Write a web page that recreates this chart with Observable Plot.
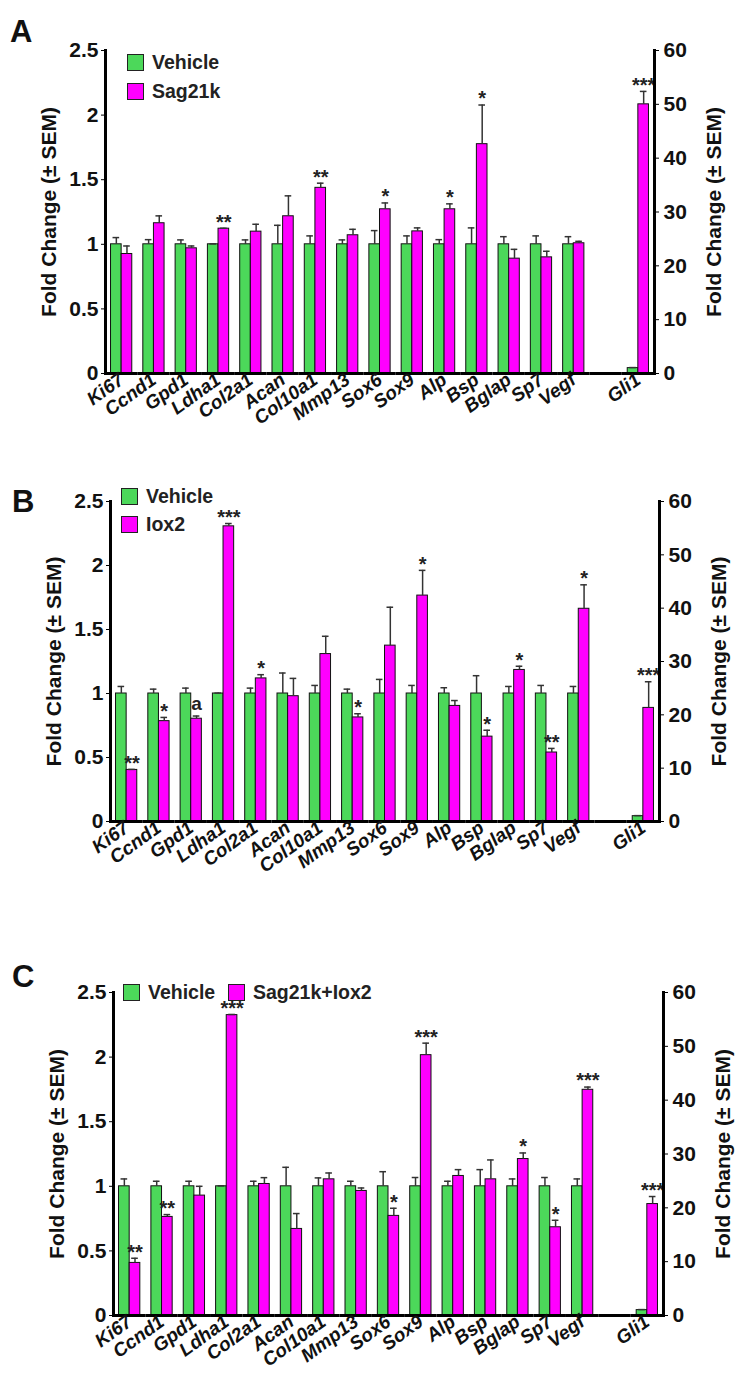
<!DOCTYPE html>
<html>
<head>
<meta charset="utf-8">
<script src="https://cdn.jsdelivr.net/npm/d3@7"></script>
<script src="https://cdn.jsdelivr.net/npm/@observablehq/plot@0.6"></script>
<style>
  body { margin: 0; background: #fff; font-family: "Liberation Sans", Arial, sans-serif; }
  #page { position: relative; width: 753px; height: 1395px; overflow: hidden; }
  .panel { position: absolute; left: 0; width: 753px; }
  .panel svg { position: absolute; left: 0; top: 0; overflow: visible; }
  .letter { position: absolute; font-weight: bold; font-size: 31px; line-height: 1; color: #111; }
  .legend { position: absolute; font-weight: bold; font-size: 19.5px; color: #222; line-height: 1; }
  .item { position: absolute; display: flex; align-items: center; white-space: nowrap; }
  .swatch { width: 15px; height: 15px; border: 1.5px solid #222; margin-right: 8px; flex: none; }
</style>
</head>
<body>
<div id="page"></div>
<script>
// Genes on the left (fold change) axis, in plotting order
const genes = ["Ki67", "Ccnd1", "Gpd1", "Ldha1", "Col2a1", "Acan", "Col10a1", "Mmp13",
               "Sox6", "Sox9", "Alp", "Bsp", "Bglap", "Sp7", "Vegf"];
// Gli1 is read against the right axis
const rightGene = "Gli1";
const leftTicks = [0, 0.5, 1, 1.5, 2, 2.5];
const rightTicks = [0, 10, 20, 30, 40, 50, 60];

const colorVehicle = "#4cd85a";
const colorTreated = "#ff00ff";

// Panel A: Vehicle vs Sag21k
const vehA    = [1, 1, 1, 1, 1, 1, 1, 1, 1, 1, 1, 1, 1, 1, 1];
const vehSemA = [0.052, 0.036, 0.034, 0.003, 0.034, 0.147, 0.065, 0.034, 0.106, 0.065, 0.036, 0.127, 0.059, 0.065, 0.059];
const sagA    = [0.925, 1.163, 0.969, 1.121, 1.098, 1.217, 1.437, 1.07, 1.271, 1.1, 1.271, 1.775, 0.889, 0.899, 1.008];
const sagSemA = [0.062, 0.057, 0.018, 0.003, 0.057, 0.158, 0.036, 0.046, 0.049, 0.027, 0.042, 0.303, 0.072, 0.047, 0.015];
const starsA  = ["", "", "", "**", "", "", "**", "", "*", "", "*", "*", "", "", ""];
const gli1A   = {veh: 1, vehSem: 0.1, trt: 50, trtSem: 2.4, mark: "***"};

// Panel B: Vehicle vs Iox2
const vehB    = [1, 1, 1, 1, 1, 1, 1, 1, 1, 1, 1, 1, 1, 1, 1];
const vehSemB = [0.055, 0.034, 0.042, 0.003, 0.042, 0.16, 0.063, 0.034, 0.11, 0.063, 0.045, 0.139, 0.055, 0.063, 0.055];
const ioxB    = [0.403, 0.784, 0.803, 2.306, 1.118, 0.979, 1.308, 0.813, 1.374, 1.765, 0.903, 0.663, 1.184, 0.539, 1.662];
const ioxSemB = [0.004, 0.029, 0.021, 0.022, 0.029, 0.139, 0.139, 0.029, 0.3, 0.197, 0.042, 0.05, 0.029, 0.032, 0.187];
const starsB  = ["**", "*", "a", "***", "*", "", "", "*", "", "*", "", "*", "*", "**", "*"];
const gli1B   = {veh: 1, vehSem: 0.1, trt: 21.3, trtSem: 4.9, mark: "***"};

// Panel C: Vehicle vs Sag21k+Iox2
const vehC    = [1, 1, 1, 1, 1, 1, 1, 1, 1, 1, 1, 1, 1, 1, 1];
const vehSemC = [0.057, 0.039, 0.039, 0.003, 0.039, 0.147, 0.065, 0.039, 0.113, 0.068, 0.039, 0.129, 0.057, 0.068, 0.057];
const comboC    = [0.407, 0.763, 0.928, 2.325, 1.018, 0.67, 1.054, 0.964, 0.771, 2.015, 1.08, 1.054, 1.211, 0.683, 1.747];
const comboSemC = [0.036, 0.018, 0.072, 0.005, 0.049, 0.119, 0.049, 0.023, 0.059, 0.093, 0.049, 0.15, 0.047, 0.054, 0.021];
const starsC  = ["**", "**", "", "***", "", "", "", "", "*", "***", "", "", "*", "*", "***"];
const gli1C   = {veh: 1, vehSem: 0.1, trt: 20.7, trtSem: 1.4, mark: "***"};

const axisTitle = "Fold Change (± SEM)";
// right axis spans 0–60 over the same height as 0–2.5 on the left
const ratio = rightTicks[rightTicks.length - 1] / leftTicks[leftTicks.length - 1];
// one empty slot separates Gli1 from the other genes
const slots = [...genes, "", rightGene];

function buildRows(treatment, veh, vehSem, trt, trtSem, stars, gli1) {
  const rows = [];
  genes.forEach((g, i) => {
    rows.push({gene: g, series: "Vehicle", value: veh[i], sem: vehSem[i], mark: ""});
    rows.push({gene: g, series: treatment, value: trt[i], sem: trtSem[i], mark: stars[i]});
  });
  rows.push({gene: rightGene, series: "Vehicle", value: gli1.veh / ratio, sem: gli1.vehSem / ratio, mark: ""});
  rows.push({gene: rightGene, series: treatment, value: gli1.trt / ratio, sem: gli1.trtSem / ratio, mark: gli1.mark});
  return rows;
}

function drawPanel(cfg) {
  const rows = buildRows(cfg.treatment, cfg.veh, cfg.vehSem, cfg.trt, cfg.trtSem, cfg.stars, cfg.gli1);
  const top = d => d.value + d.sem;
  const withErr = rows.filter(d => d.sem > 0);
  const starRows = rows.filter(d => /\*/.test(d.mark));
  const letterRows = rows.filter(d => d.mark && !/\*/.test(d.mark));
  const textStyle = {fontFamily: "Liberation Sans, Arial, sans-serif"};

  return Plot.plot({
    width: 753,
    height: cfg.height,
    marginTop: cfg.marginTop,
    marginBottom: cfg.marginBottom,
    marginLeft: cfg.marginLeft,
    marginRight: cfg.marginRight,
    style: {fontFamily: "Liberation Sans, Arial, sans-serif", background: "transparent", overflow: "visible"},
    fx: {domain: slots, paddingInner: 0, paddingOuter: 0, round: false},
    x: {domain: ["Vehicle", cfg.treatment], paddingInner: 0, paddingOuter: 0.52, round: false, axis: null},
    y: {domain: [0, 2.5]},
    color: {domain: ["Vehicle", cfg.treatment], range: [colorVehicle, colorTreated]},
    marks: [
      Plot.barY(rows, {fx: "gene", x: "series", y: "value", fill: "series", stroke: "#111", strokeWidth: 1}),
      Plot.ruleX(withErr, {fx: "gene", x: "series", y1: top, y2: "value", stroke: "#333", strokeWidth: 1.5}),
      Plot.tickY(withErr, {fx: "gene", x: "series", y: top, stroke: "#333", strokeWidth: 1.5, insetLeft: 2, insetRight: 2}),
      Plot.text(starRows, {fx: "gene", x: "series", y: top, text: "mark", dy: -6, fontSize: 20, fontWeight: "bold", fill: "#222", ...textStyle}),
      Plot.text(letterRows, {fx: "gene", x: "series", y: top, text: "mark", dy: -12, fontSize: 19, fontWeight: "bold", fill: "#222", ...textStyle}),
      // baseline runs through every slot, including the spacer before Gli1
      Plot.ruleY(slots, {fx: d => d, y: () => 0, stroke: "#000", strokeWidth: 3}),
      Plot.frame({anchor: "left", facetAnchor: "left", stroke: "#000", strokeWidth: 3}),
      Plot.frame({anchor: "right", facetAnchor: "right", stroke: "#000", strokeWidth: 3}),
      Plot.axisY(leftTicks, {
        anchor: "left", facetAnchor: "left", tickSize: 4, tickPadding: 3, tickFormat: d => String(d),
        fontSize: 21, fontWeight: "bold", fill: "#111",
        label: axisTitle, labelAnchor: "center", labelArrow: "none", labelOffset: 64
      }),
      Plot.axisY(rightTicks.map(v => v / ratio), {
        anchor: "right", facetAnchor: "right", tickSize: 4, tickPadding: 5, tickFormat: d => String(Math.round(d * ratio)),
        fontSize: 21, fontWeight: "bold", fill: "#111",
        label: axisTitle, labelAnchor: "center", labelArrow: "none", labelOffset: 66
      }),
      Plot.axisFx({
        anchor: "bottom", tickSize: 0, tickPadding: 4, tickRotate: -36, label: null,
        tickFormat: d => d, fontSize: 19, fontWeight: "bold", fontStyle: "italic", fill: "#111"
      })
    ]
  });
}

const panels = [
  {letter: "A", top: 0, height: 440, marginTop: 50, marginBottom: 67, marginLeft: 105, marginRight: 99,
   treatment: "Sag21k", veh: vehA, vehSem: vehSemA, trt: sagA, trtSem: sagSemA, stars: starsA, gli1: gli1A,
   letterPos: [10, 16], legend: {layout: "column", x: 127, y: 53, gap: 29, spacing: 0}},
  {letter: "B", top: 440, height: 460, marginTop: 61, marginBottom: 79, marginLeft: 110, marginRight: 94,
   treatment: "Iox2", veh: vehB, vehSem: vehSemB, trt: ioxB, trtSem: ioxSemB, stars: starsB, gli1: gli1B,
   letterPos: [12, 46], legend: {layout: "column", x: 121, y: 47, gap: 28, spacing: 0}},
  {letter: "C", top: 900, height: 495, marginTop: 92, marginBottom: 80, marginLeft: 113, marginRight: 90,
   treatment: "Sag21k+Iox2", veh: vehC, vehSem: vehSemC, trt: comboC, trtSem: comboSemC, stars: starsC, gli1: gli1C,
   letterPos: [12, 61], legend: {layout: "row", x: 123, y: 83, gap: 0, spacing: 105}}
];

const page = document.getElementById("page");
for (const p of panels) {
  const div = document.createElement("div");
  div.className = "panel";
  div.style.top = p.top + "px";
  div.style.height = p.height + "px";
  div.appendChild(drawPanel(p));

  const letter = document.createElement("div");
  letter.className = "letter";
  letter.textContent = p.letter;
  letter.style.left = p.letterPos[0] + "px";
  letter.style.top = p.letterPos[1] + "px";
  div.appendChild(letter);

  const legend = document.createElement("div");
  legend.className = "legend";
  legend.style.left = p.legend.x + "px";
  legend.style.top = p.legend.y + "px";
  [["Vehicle", colorVehicle], [p.treatment, colorTreated]].forEach(([name, col], i) => {
    const item = document.createElement("div");
    item.className = "item";
    if (p.legend.layout === "column") { item.style.left = "0px"; item.style.top = (i * p.legend.gap) + "px"; }
    else { item.style.left = (i * p.legend.spacing) + "px"; item.style.top = "0px"; }
    const sw = document.createElement("div");
    sw.className = "swatch";
    sw.style.background = col;
    const label = document.createElement("span");
    label.textContent = name;
    item.appendChild(sw);
    item.appendChild(label);
    legend.appendChild(item);
  });
  div.appendChild(legend);
  page.appendChild(div);
}
</script>
</body>
</html>
